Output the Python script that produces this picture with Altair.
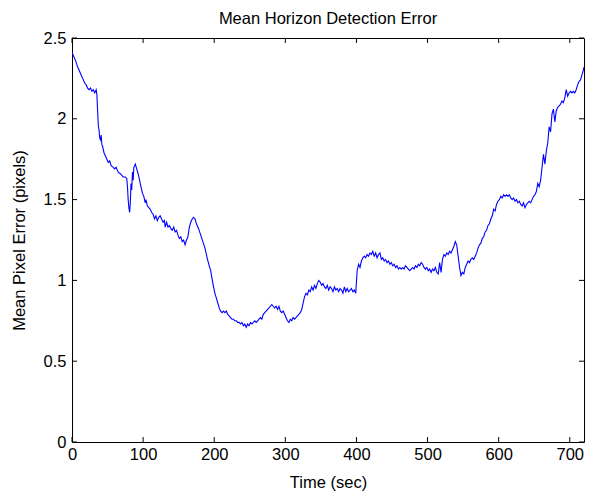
import altair as alt
import pandas as pd

# Time (sec) and mean pixel error
t = [0, 2, 5, 8, 10, 13, 15, 18, 20, 22, 24, 26, 28, 30, 32, 34, 35,
     36, 37, 38, 39, 40, 41, 42, 43, 45, 47, 49, 51, 53, 55, 58, 60, 62, 65, 68, 70, 72, 75, 77,
     78, 79, 80, 81, 82, 83, 84, 85, 86, 87, 89, 91, 93, 95, 97, 99, 101, 103, 104, 106, 108,
     110, 112, 114, 116, 118, 120, 122, 124, 126, 128, 130, 131, 133, 135, 137, 139, 141, 143,
     145, 147, 149, 151, 153, 155, 157, 159, 161, 163, 165, 167, 169, 171, 173, 175, 178, 181,
     184, 187, 190, 193, 195, 197, 199, 201, 203, 205, 207, 209, 211, 213, 215, 217, 219, 221,
     223, 225, 227, 229, 231, 233, 235, 237, 239, 241, 243, 245, 247, 249, 251, 253, 255, 257,
     259, 261, 263, 265, 267, 269, 271, 273, 275, 277, 279, 281, 283, 285, 287, 289, 291, 293,
     295, 297, 299, 301, 303, 305, 307, 309, 311, 313, 315, 317, 319, 321, 323, 325, 327, 329,
     331, 333, 335, 337, 339, 341, 343, 345, 347, 349, 351, 353, 355, 357, 359, 361, 363, 365,
     367, 369, 371, 373, 375, 377, 379, 381, 383, 385, 387, 389, 391, 393, 395, 397, 399, 401,
     403, 405, 407, 409, 411, 413, 415, 417, 419, 421, 423, 425, 427, 429, 431, 433, 435, 437,
     439, 441, 443, 445, 447, 449, 451, 453, 455, 457, 459, 461, 463, 465, 467, 469, 471, 473,
     475, 477, 479, 481, 483, 485, 487, 489, 491, 493, 495, 497, 499, 501, 503, 505, 507, 509,
     511, 513, 515, 517, 519, 521, 523, 525, 527, 529, 531, 533, 535, 537, 539, 541, 543, 545,
     547, 549, 551, 553, 555, 557, 559, 561, 563, 565, 567, 569, 571, 573, 575, 577, 579, 581,
     583, 585, 587, 589, 591, 593, 595, 597, 599, 601, 603, 605, 607, 609, 611, 613, 615, 617,
     619, 621, 623, 625, 627, 629, 631, 633, 635, 637, 639, 641, 643, 645, 647, 649, 651, 653,
     655, 657, 659, 661, 663, 665, 667, 669, 671, 673, 675, 677, 679, 681, 683, 685, 687, 689,
     691, 693, 695, 697, 699, 701, 703, 705, 707, 709, 711, 713, 715, 717, 719, 720]

err = [2.41, 2.39, 2.36, 2.32, 2.30, 2.27, 2.25, 2.22, 2.21, 2.19, 2.18, 2.19, 2.17, 2.18, 2.16, 2.18, 2.15,
       2.05, 1.96, 1.93, 1.88, 1.87, 1.90, 1.84, 1.83, 1.79, 1.77, 1.75, 1.73, 1.74, 1.71, 1.70, 1.69, 1.70, 1.67, 1.66, 1.65, 1.64, 1.64, 1.63,
       1.58, 1.50, 1.45, 1.42, 1.48, 1.60, 1.56, 1.67, 1.62, 1.70, 1.72, 1.69, 1.66, 1.62, 1.58, 1.54, 1.52, 1.48, 1.50, 1.46, 1.45,
       1.44, 1.42, 1.41, 1.38, 1.40, 1.37, 1.39, 1.40, 1.38, 1.36, 1.37, 1.33, 1.36, 1.33, 1.34, 1.32, 1.31, 1.33,
       1.30, 1.31, 1.28, 1.26, 1.27, 1.24, 1.25, 1.22, 1.25, 1.27, 1.33, 1.36, 1.38, 1.39, 1.38, 1.35, 1.32, 1.28,
       1.24, 1.20, 1.14, 1.09, 1.06, 1.01, 0.96, 0.92, 0.89, 0.86, 0.83, 0.81, 0.80, 0.81, 0.80, 0.81, 0.79, 0.78,
       0.77, 0.76, 0.76, 0.75, 0.75, 0.74, 0.74, 0.73, 0.74, 0.72, 0.73, 0.71, 0.73, 0.72, 0.74, 0.73, 0.74, 0.75,
       0.74, 0.75, 0.76, 0.77, 0.76, 0.79, 0.80, 0.81, 0.82, 0.83, 0.84, 0.85, 0.84, 0.83, 0.84, 0.82, 0.84, 0.81,
       0.80, 0.81, 0.79, 0.77, 0.75, 0.74, 0.76, 0.75, 0.77, 0.76, 0.77, 0.78, 0.79, 0.80, 0.82, 0.86, 0.90, 0.92,
       0.91, 0.94, 0.93, 0.96, 0.94, 0.97, 0.95, 0.98, 1.00, 0.99, 0.97, 0.98, 0.96, 0.95, 0.97, 0.94, 0.96, 0.95,
       0.93, 0.96, 0.94, 0.95, 0.93, 0.95, 0.94, 0.92, 0.96, 0.93, 0.95, 0.93, 0.94, 0.95, 0.93, 0.94, 0.92, 1.06,
       1.10, 1.08, 1.12, 1.14, 1.15, 1.14, 1.16, 1.15, 1.17, 1.16, 1.18, 1.15, 1.17, 1.14, 1.16, 1.17, 1.13, 1.14,
       1.12, 1.13, 1.11, 1.12, 1.10, 1.11, 1.09, 1.10, 1.08, 1.09, 1.07, 1.08, 1.07, 1.08, 1.07, 1.09, 1.08, 1.07,
       1.06, 1.07, 1.08, 1.07, 1.09, 1.08, 1.10, 1.09, 1.11, 1.10, 1.08, 1.07, 1.08, 1.06, 1.07, 1.05, 1.07, 1.06,
       1.08, 1.05, 1.04, 1.11, 1.05, 1.13, 1.16, 1.15, 1.17, 1.16, 1.18, 1.17, 1.19, 1.21, 1.24, 1.22, 1.15, 1.08,
       1.03, 1.05, 1.04, 1.08, 1.10, 1.12, 1.11, 1.13, 1.14, 1.13, 1.15, 1.17, 1.20, 1.22, 1.23, 1.26, 1.27, 1.30,
       1.31, 1.34, 1.35, 1.38, 1.40, 1.44, 1.43, 1.47, 1.49, 1.50, 1.52, 1.51, 1.53, 1.52, 1.53, 1.52, 1.53, 1.51,
       1.50, 1.51, 1.49, 1.50, 1.48, 1.49, 1.47, 1.46, 1.48, 1.45, 1.47, 1.48, 1.49, 1.48, 1.50, 1.52, 1.53, 1.55,
       1.60, 1.58, 1.62, 1.70, 1.78, 1.72, 1.80, 1.85, 1.95, 1.92, 2.03, 2.06, 1.98, 2.05, 2.07, 2.08, 2.09, 2.11,
       2.10, 2.13, 2.18, 2.14, 2.16, 2.17, 2.16, 2.17, 2.16, 2.18, 2.21, 2.23, 2.24, 2.27, 2.30, 2.32]

x_ticks = [0, 100, 200, 300, 400, 500, 600, 700]
y_ticks = [0, 0.5, 1, 1.5, 2, 2.5]

W, H = 512, 404
FONT = "Liberation Sans"
FS = 16.5
TICK = 5

df = pd.DataFrame({"t": t, "err": err})
xt = pd.DataFrame({"v": x_ticks})
yt = pd.DataFrame({"v": y_ticks})

xscale = alt.Scale(domain=[0, 720], nice=False, zero=False)
yscale = alt.Scale(domain=[0, 2.5], nice=False, zero=False)

axis_style = dict(ticks=False, domain=False, grid=False, labelFlush=False,
                  labelFont=FONT, labelFontSize=FS, labelColor="black",
                  titleFont=FONT, titleFontSize=FS, titleFontWeight="normal",
                  titleColor="black")

line = alt.Chart(df).mark_line(color="#0000FF", strokeWidth=1.1, clip=True).encode(
    x=alt.X("t:Q", scale=xscale, title="Time (sec)",
            axis=alt.Axis(values=x_ticks, labelPadding=4, titlePadding=12,
                          format="d", **axis_style)),
    y=alt.Y("err:Q", scale=yscale, title="Mean Pixel Error (pixels)",
            axis=alt.Axis(values=y_ticks, labelPadding=6, titlePadding=16,
                          format="~g", **axis_style)),
)

xb = alt.Chart(xt).mark_rule(color="black", strokeWidth=1).encode(
    x=alt.X("v:Q", scale=xscale), y=alt.value(H), y2=alt.value(H - TICK))
xtop = alt.Chart(xt).mark_rule(color="black", strokeWidth=1).encode(
    x=alt.X("v:Q", scale=xscale), y=alt.value(0), y2=alt.value(TICK))
yl = alt.Chart(yt).mark_rule(color="black", strokeWidth=1).encode(
    y=alt.Y("v:Q", scale=yscale), x=alt.value(0), x2=alt.value(TICK))
yr = alt.Chart(yt).mark_rule(color="black", strokeWidth=1).encode(
    y=alt.Y("v:Q", scale=yscale), x=alt.value(W), x2=alt.value(W - TICK))

chart = alt.layer(line, xb, xtop, yl, yr).properties(
    width=W, height=H,
    background="white",
    title=alt.TitleParams("Mean Horizon Detection Error", font=FONT, fontSize=FS,
                          fontWeight="normal", color="black", offset=3),
    autosize=alt.AutoSizeParams(type="none"),
    padding={"left": 72, "top": 38, "right": 10, "bottom": 49},
).configure_view(stroke="black", strokeWidth=1)

chart.save("out.html", embed_options={"renderer": "svg", "actions": False})
